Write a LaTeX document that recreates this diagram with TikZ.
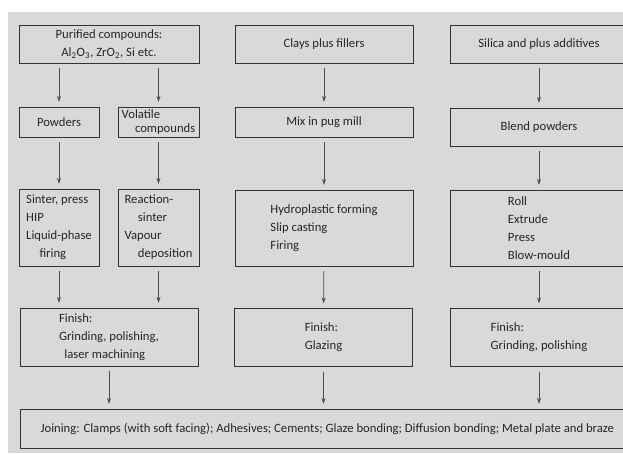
\documentclass[tikz,border=0pt]{standalone}
\usepackage{fontspec}
\setmainfont{Carlito}
\usetikzlibrary{arrows.meta}
\begin{document}
\begin{tikzpicture}[>={Stealth[length=4.5pt,width=3pt]},x=0.75pt,y=-0.75pt,
 font=\fontsize{9.5}{13.5}\selectfont,
 box/.style={draw=black!80,line width=0.6pt,align=left,inner sep=0pt,text=black!85},
 flow/.style={->,draw=black!70,line width=0.5pt,shorten <=3.5pt,shorten >=3.5pt}]
\useasboundingbox (0,0) rectangle (623,453);
\fill[black!15] (8,12) rectangle (623,453);
% sources
\node[box,align=center,minimum width=135pt,minimum height=28.5pt] (pur) at (109,44) {Purified compounds:\\Al\textsubscript{2}O\textsubscript{3}, ZrO\textsubscript{2}, Si etc.};
\node[box,minimum width=133.5pt,minimum height=28.5pt] (clays) at (324,44) {Clays plus fillers};
\node[box,minimum width=133.5pt,minimum height=28.5pt] (silica) at (539,44) {Silica and plus additives};
% preparation
\node[box,minimum width=60pt,minimum height=22.5pt] (pow) at (59,122) {Powders};
\node[box,minimum width=60.75pt,minimum height=22.5pt] (vol) at (158.5,122) {Volatile\\[-2.5pt]\hspace*{10pt}compounds};
\node[box,minimum width=133.5pt,minimum height=22.5pt] (mix) at (324,122) {Mix in pug mill};
\node[box,minimum width=133.5pt,minimum height=28.5pt] (blend) at (539,127) {Blend powders};
% forming
\node[box,minimum width=60pt,minimum height=57.75pt] (sinter) at (59,227.5) {Sinter, press\\HIP\\Liquid-phase\\\hspace*{10pt}firing};
\node[box,minimum width=60.75pt,minimum height=57.75pt] (react) at (158.5,227.5) {Reaction-\\\hspace*{10pt}sinter\\Vapour\\\hspace*{10pt}deposition};
\node[box,minimum width=133.5pt,minimum height=57pt] (hydro) at (324,228) {Hydroplastic forming\\Slip casting\\Firing};
\node[box,minimum width=133.5pt,minimum height=57pt] (roll) at (539,228) {Roll\\Extrude\\Press\\Blow-mould};
% finishing
\node[box,minimum width=133.5pt,minimum height=43.5pt] (fin1) at (109,337) {Finish:\\Grinding, polishing,\hspace*{10pt}\\\hspace*{4pt}laser machining};
\node[box,minimum width=133pt,minimum height=43.5pt] (fin2) at (323.5,337.5) {Finish:\\Glazing};
\node[box,minimum width=133.5pt,minimum height=43.5pt] (fin3) at (539,337.5) {Finish:\\Grinding, polishing};
\node[box,minimum width=465pt,minimum height=29.25pt] (join) at (330,428.5) {\hspace*{-4pt}Joining: Clamps (with soft facing); Adhesives; Cements; Glaze bonding; Diffusion bonding; Metal plate and braze};
% arrows
\draw[flow] (pur.south -| pow) -- (pow);
\draw[flow] (pur.south -| vol) -- (vol);
\draw[flow] (pow) -- (sinter);
\draw[flow] (vol) -- (react);
\draw[flow] (sinter) -- (sinter |- fin1.north);
\draw[flow] (react) -- (react |- fin1.north);
\draw[flow] (fin1) -- (fin1 |- join.north);
\draw[flow] (clays) -- (mix);
\draw[flow] (mix) -- (hydro);
\draw[flow] (hydro) -- (fin2);
\draw[flow] (fin2) -- (fin2 |- join.north);
\draw[flow] (silica) -- (blend);
\draw[flow] (blend) -- (roll);
\draw[flow] (roll) -- (fin3);
\draw[flow] (fin3) -- (fin3 |- join.north);
\end{tikzpicture}
\end{document}
